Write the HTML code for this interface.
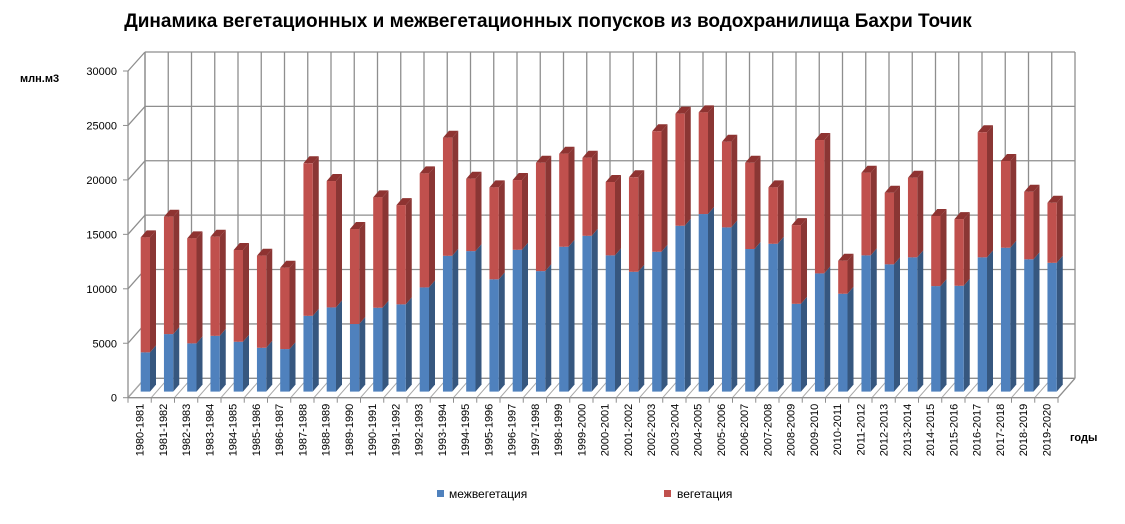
<!DOCTYPE html>
<html><head><meta charset="utf-8">
<style>
body{margin:0;background:#fff;}
svg{display:block;font-family:"Liberation Sans","DejaVu Sans",sans-serif;}
</style></head>
<body>
<svg id="chart" width="1125" height="524" viewBox="0 0 1125 524" xmlns="http://www.w3.org/2000/svg">
<text x="548" y="27" text-anchor="middle" font-size="19" font-weight="bold" fill="#000">Динамика вегетационных и межвегетационных попусков из водохранилища Бахри Точик</text>
<text x="20" y="82" font-size="11" font-weight="bold">млн.м3</text>
<text x="1070" y="441" font-size="11" font-weight="bold">годы</text>
<g id="grid"></g>
<g id="bars"></g>
<g id="axes"></g>
<g>
<rect x="437" y="490" width="7" height="7" fill="#4F81BD"/>
<text x="449" y="498" font-size="12">межвегетация</text>
<rect x="664" y="490" width="7" height="7" fill="#C0504D"/>
<text x="677" y="498" font-size="12">вегетация</text>
</g>
</svg>
<script>
const categories = ["1980-1981","1981-1982","1982-1983","1983-1984","1984-1985","1985-1986","1986-1987","1987-1988","1988-1989","1989-1990","1990-1991","1991-1992","1992-1993","1993-1994","1994-1995","1995-1996","1996-1997","1997-1998","1998-1999","1999-2000","2000-2001","2001-2002","2002-2003","2003-2004","2004-2005","2005-2006","2006-2007","2007-2008","2008-2009","2009-2010","2010-2011","2011-2012","2012-2013","2013-2014","2014-2015","2015-2016","2016-2017","2017-2018","2018-2019","2019-2020"];
const mezhveg = [3590,5260,4410,5100,4560,4010,3890,6930,7700,6180,7670,7980,9530,12420,12850,10270,12970,11020,13250,14250,12460,10960,12790,15170,16240,15020,13040,13520,8030,10810,8950,12460,11640,12280,9650,9680,12280,13160,12100,11780];
const veg = [10520,10730,9610,9060,8390,8420,7440,13950,11560,8690,10100,9080,10430,10800,6620,8410,6380,9910,8510,7140,6710,8640,11020,10250,9300,7830,7890,5160,7200,12200,3020,7560,6550,7280,6410,6100,11440,7930,6180,5490];
const yTicks = [0,5000,10000,15000,20000,25000,30000];
const yMax = 30000;

const NS="http://www.w3.org/2000/svg";
function mk(tag, attrs, parent){const e=document.createElementNS(NS,tag);for(const k in attrs)e.setAttribute(k,attrs[k]);parent.appendChild(e);return e;}
const grid=document.getElementById('grid'), bars=document.getElementById('bars'), axes=document.getElementById('axes');
const n=categories.length, step=23.25;
const backL=145, backB=378.3, backH=326.3;
const frontL=128, frontB=397.7, frontH=326.7;
const dx=17, dy=19.4;
const barBase=391.6, barH=328, barW=9.3, sdx=6, sdy=7;
function yBack(v){return backB - v/yMax*backH;}
function yFront(v){return frontB - v/yMax*frontH;}
function yBar(v){return barBase - v/yMax*barH;}
function xBar(i){return 140.7 + i*step;}
const gc="#8e8e8e";
// back wall
yTicks.forEach(t=>{
  const l=mk('line',{x1:backL,y1:yBack(t),x2:backL+n*step,y2:yBack(t),stroke:gc,'stroke-width':1.3},grid);
  
  const d=mk('line',{x1:frontL,y1:yFront(t),x2:backL,y2:yBack(t),stroke:gc,'stroke-width':1.3},grid);
  
  const tk=mk('line',{x1:frontL-5,y1:yFront(t),x2:frontL,y2:yFront(t),stroke:gc,'stroke-width':1},axes);
  
  const tx=mk('text',{x:117,y:yFront(t)+4,'text-anchor':'end','font-size':11},axes);
  
  tx.textContent=t;
});
for(let i=0;i<=n;i++){
  const x=backL+i*step;
  const v=mk('line',{x1:x,y1:yBack(yMax),x2:x,y2:backB,stroke:gc,'stroke-width':1.3},grid);
  
  const f=mk('line',{x1:frontL+i*step,y1:frontB,x2:x,y2:backB,stroke:"#a8a8a8",'stroke-width':1},grid);
  
  const tk=mk('line',{x1:frontL+i*step,y1:frontB,x2:frontL+i*step,y2:frontB+5,stroke:gc,'stroke-width':1},axes);
  
}
const la=mk('line',{x1:frontL,y1:yFront(0),x2:frontL,y2:yFront(yMax),stroke:gc,'stroke-width':1.3},axes);

const fa=mk('line',{x1:frontL,y1:frontB,x2:frontL+n*step,y2:frontB,stroke:gc,'stroke-width':1.3},axes);

const ra=mk('line',{x1:frontL+n*step,y1:frontB,x2:backL+n*step,y2:backB,stroke:gc,'stroke-width':1.3},axes);

const lw=mk('line',{x1:backL,y1:yBack(0),x2:backL,y2:yBack(yMax),stroke:gc,'stroke-width':1.3},grid);


function seg(i,v0,v1,front,side,top,name,drawTop){
  const x=xBar(i), y0=yBar(v0), y1=yBar(v1);
  const g=mk('g',{},bars);
  
  
  mk('polygon',{points:`${x+barW},${y0} ${x+barW+sdx},${y0-sdy} ${x+barW+sdx},${y1-sdy} ${x+barW},${y1}`,fill:side},g);
  if(drawTop) mk('polygon',{points:`${x},${y1} ${x+sdx},${y1-sdy} ${x+barW+sdx},${y1-sdy} ${x+barW},${y1}`,fill:top},g);
  mk('rect',{x:x,y:y1,width:barW,height:y0-y1,fill:front},g);
}
for(let i=0;i<n;i++){
  seg(i,0,mezhveg[i],"#4F81BD","#36577F","#6a93c8",'bar-mezhveg-'+categories[i],false);
  seg(i,mezhveg[i],mezhveg[i]+veg[i],"#C0504D","#8A3634","#8E3331",'bar-veg-'+categories[i],true);
  const cx=frontL+(i+0.5)*step+4;
  const t=mk('text',{x:0,y:0,'text-anchor':'end','font-size':11,transform:`translate(${cx},${frontB+6}) rotate(-90)`},axes);
  
  
  t.textContent=categories[i];
}
</script>
</body></html>
